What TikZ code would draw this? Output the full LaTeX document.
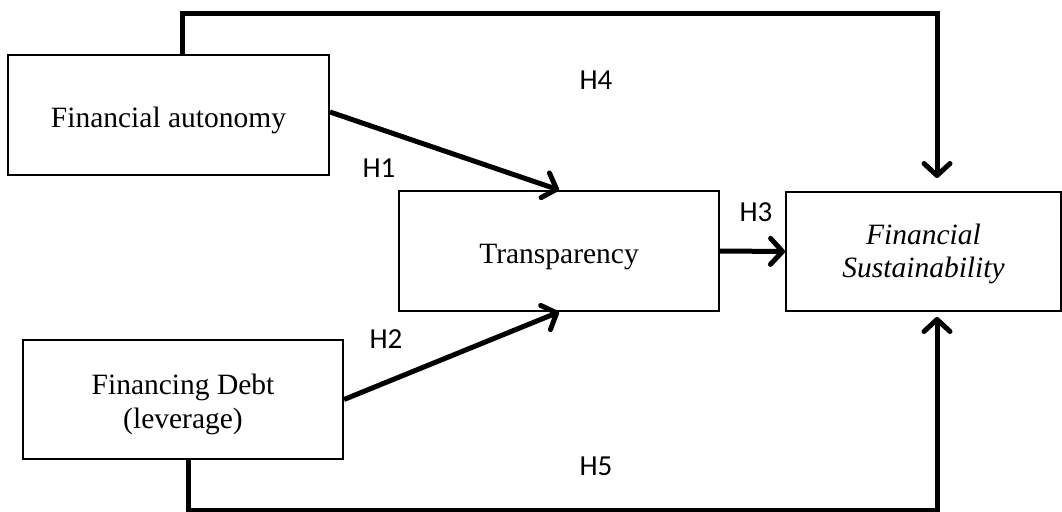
\documentclass[tikz,border=0pt]{standalone}
\usepackage{fontspec}
\setmainfont{Liberation Serif}
\newfontfamily\hfont{Carlito}
\usetikzlibrary{arrows.meta}
\begin{document}
\begin{tikzpicture}[x=1pt,y=-1pt,
  box/.style={draw,line width=2pt,inner sep=0pt,align=center,font=\fontsize{29.5}{34}\selectfont},
  conn/.style={line width=5pt,line join=miter},
  arr/.style={conn,-{Straight Barb[length=12pt,width=26pt,line width=5pt,round]}},
  hlab/.style={font=\hfont\fontsize{29}{34}\selectfont,inner sep=0pt}]
\useasboundingbox (0,0) rectangle (1062,511);
\node[box,minimum width=321pt,minimum height=120pt] (fa) at (168.5,115) {\raisebox{-12pt}[0pt][0pt]{Financial autonomy}};
\node[box,minimum width=320pt,minimum height=120pt] (tr) at (559,251) {\raisebox{-12pt}[0pt][0pt]{Transparency}};
\node[box,minimum width=275pt,minimum height=119pt] (fs) at (923.5,251.5) {\raisebox{-9pt}[0pt][0pt]{\fontsize{29.5}{33}\selectfont\itshape\begin{tabular}{@{}c@{}}Financial\\Sustainability\end{tabular}}};
\node[box,minimum width=320pt,minimum height=119pt] (fd) at (183,399.5) {\raisebox{-11pt}[0pt][0pt]{\fontsize{29.5}{34}\selectfont\begin{tabular}{@{}c@{}}Financing Debt\\(leverage)\end{tabular}}};
\draw[arr] ([yshift=3pt]fa.east) -- (tr.north);
\draw[arr] (fd.east) -- (tr.south);
\draw[arr] (tr.east) -- (fs.west);
\draw[arr,shorten >=13pt] ([xshift=13.5pt]fa.north) -- ++(0,-40) -| ([xshift=13.5pt]fs.north);
\draw[arr,shorten >=5pt] ([xshift=5pt]fd.south) -- ++(0,50) -| ([xshift=13.5pt]fs.south);
\node[hlab] (h1) at (379,168) {H1};
\node[hlab] (h2) at (386,339) {H2};
\node[hlab] (h3) at (756,212) {H3};
\node[hlab] (h4) at (596,80) {H4};
\node[hlab] (h5) at (596,466) {H5};
\end{tikzpicture}
\end{document}
